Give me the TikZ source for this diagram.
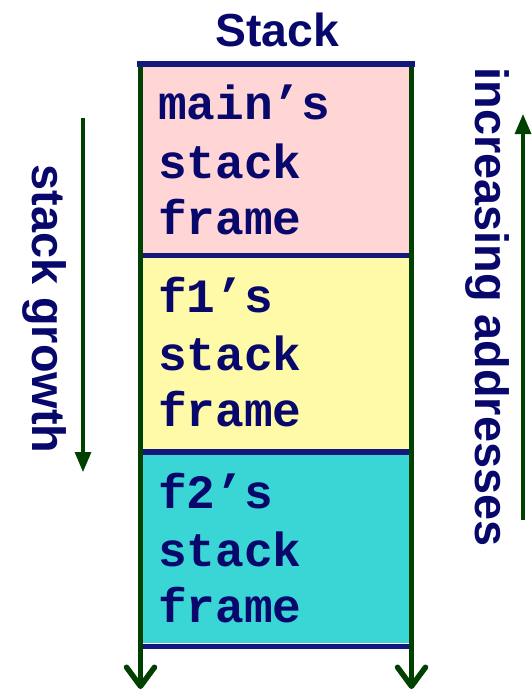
\documentclass[tikz,border=0pt]{standalone}
\usepackage{fontspec}
\setmainfont{Liberation Sans}
\newfontfamily\codefont{Liberation Mono}
\usetikzlibrary{arrows.meta}

\definecolor{labelblue}{RGB}{8,8,108}
\definecolor{rulegreen}{RGB}{0,64,0}
\definecolor{divblue}{RGB}{18,24,124}
\definecolor{mainfill}{RGB}{255,213,213}
\definecolor{fonefill}{RGB}{255,250,168}
\definecolor{ftwofill}{RGB}{58,214,214}

\tikzset{
  framebox/.style={draw=none, inner sep=0pt, anchor=north west,
    minimum width=272bp, minimum height=196bp},
  frametext/.style={anchor=base west, inner sep=0pt, text=labelblue,
    font=\codefont\bfseries\fontsize{48}{48}\selectfont},
  sidelabel/.style={inner sep=0pt, text=labelblue, rotate=-90,
    font=\bfseries\fontsize{47}{47}\selectfont},
  divider/.style={draw=divblue, line width=5.5bp},
  wall/.style={draw=rulegreen, line width=5.5bp,
    -{Straight Barb[length=19bp,width=28bp,round]}},
  trend/.style={draw=rulegreen, line width=3.2bp,
    -{Triangle[length=20bp,width=16bp]}}
}

\begin{document}
\begin{tikzpicture}[x=1bp,y=-1bp]
\useasboundingbox (0,0) rectangle (532,690);

% title
\node[anchor=base, inner sep=0pt, text=labelblue,
  font=\bfseries\fontsize{46.5}{46.5}\selectfont] (title) at (277,47) {Stack};

% the three stack frames
\node[framebox, fill=mainfill] (mainframe) at (140,64) {};
\node[framebox, fill=fonefill] (foneframe) at (140,255.5) {};
\node[framebox, fill=ftwofill, minimum height=190.5bp] (ftwoframe) at (140,452) {};

% frame boundaries
\draw[divider] (foneframe.north west) -- (foneframe.north east);
\draw[divider] (ftwoframe.north west) -- (ftwoframe.north east);
\draw[divider] ([yshift=-3.5bp]ftwoframe.south west) -- ([yshift=-3.5bp]ftwoframe.south east);

% frame contents
\node[frametext] (mainA) at (158,120) {main’s};
\node[frametext] (mainB) at (158,178) {stack};
\node[frametext] (mainC) at (158,234) {frame};
\node[frametext] (foneA) at (158,312) {f1’s};
\node[frametext] (foneB) at (158,370) {stack};
\node[frametext] (foneC) at (158,426) {frame};
\node[frametext] (ftwoA) at (158,508) {f2’s};
\node[frametext] (ftwoB) at (158,566) {stack};
\node[frametext] (ftwoC) at (158,622) {frame};

% side walls of the stack, open towards lower addresses
\coordinate (lefttop) at (140.5,64);
\coordinate (leftend) at (140.5,689);
\coordinate (righttop) at (411.5,64);
\coordinate (rightend) at (411.5,689);
\draw[wall] (lefttop) -- (leftend);
\draw[wall] (righttop) -- (rightend);

% top of the stack
\draw[divider] (137,64) -- (415,64);

% growth direction
\coordinate (growthstart) at (83,118);
\coordinate (growthend) at (83,472);
\draw[trend] (growthstart) -- (growthend);
\node[sidelabel] (growth) at (44.5,309) {stack growth};

% address direction
\coordinate (addrstart) at (523,520);
\coordinate (addrend) at (523,114);
\draw[trend] (addrstart) -- (addrend);
\node[sidelabel] (addresses) at (487,307) {increasing addresses};
\end{tikzpicture}
\end{document}
